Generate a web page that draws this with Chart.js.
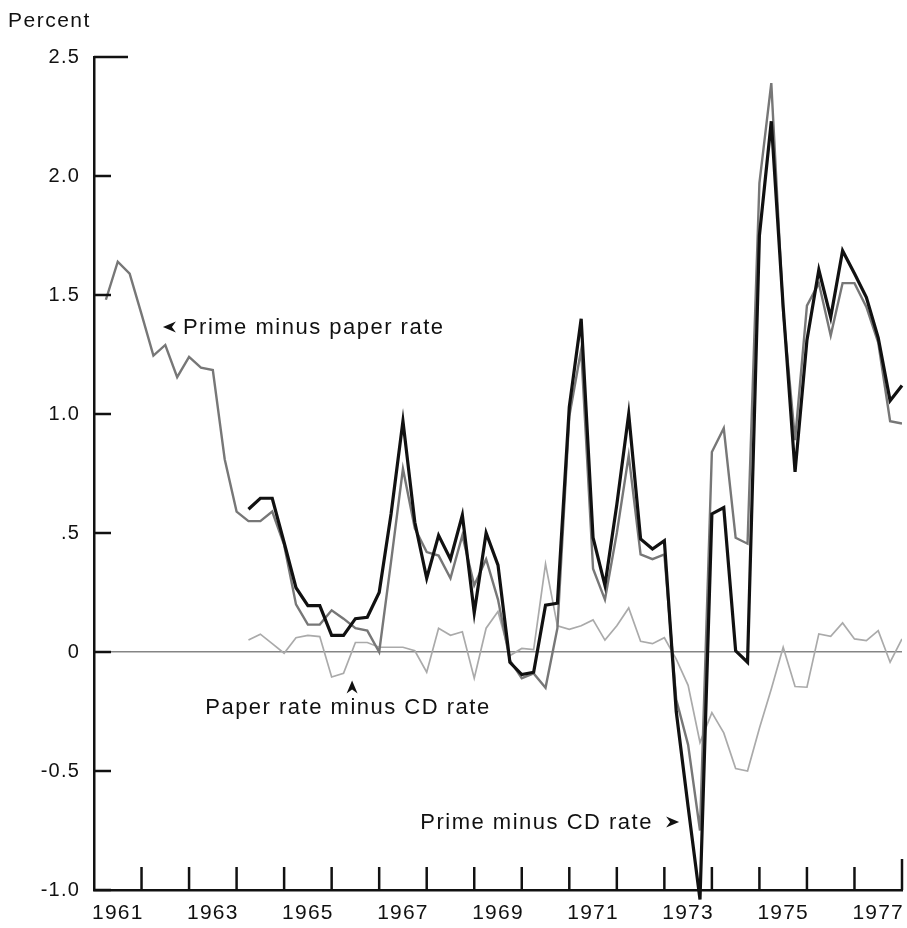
<!DOCTYPE html>
<html>
<head>
<meta charset="utf-8">
<title>Prime, paper and CD rate spreads</title>
<script src="https://cdn.jsdelivr.net/npm/chart.js@4.4.1/dist/chart.umd.min.js"></script>
<style>
  html, body { margin: 0; padding: 0; background: #fff; }
  #wrap { width: 907px; height: 928px; }
</style>
</head>
<body>
<div id="wrap"><canvas id="chart" width="907" height="928"></canvas></div>
<script>
var FIRST_YEAR = 1961;
var LAST_YEAR = 1978;
var Y_TICKS = [-1, -0.5, 0, 0.5, 1, 1.5, 2, 2.5];
var Y_TICK_LABELS = ["-1.0", "-0.5", "0", ".5", "1.0", "1.5", "2.0", "2.5"];
var YEAR_LABELS = ["1961", "1963", "1965", "1967", "1969", "1971", "1973", "1975", "1977"];

// quarterly values, 1961 Q1 .. 1977 Q4 (percentage points)
var primeMinusPaper = [
    1.48, 1.64, 1.59, 1.42,
    1.245, 1.29, 1.155, 1.24,
    1.195, 1.185, 0.81, 0.59,
    0.55, 0.55, 0.59, 0.45,
    0.20, 0.115, 0.115, 0.175,
    0.14, 0.10, 0.09, 0.0,
    0.38, 0.77, 0.52, 0.42,
    0.405, 0.31, 0.49, 0.28,
    0.39, 0.22, -0.035, -0.11,
    -0.09, -0.15, 0.10, 0.99,
    1.27, 0.35, 0.22, 0.50,
    0.825, 0.41, 0.39, 0.41,
    -0.20, -0.39, -0.75, 0.84,
    0.94, 0.48, 0.455, 1.97,
    2.39, 1.43, 0.89, 1.455,
    1.55, 1.33, 1.55, 1.55,
    1.45, 1.30, 0.97, 0.96
];

var primeMinusCD = [
    null, null, null, null,
    null, null, null, null,
    null, null, null, null,
    0.60, 0.646, 0.646, 0.46,
    0.27, 0.195, 0.195, 0.07,
    0.07, 0.14, 0.146, 0.25,
    0.58, 0.97, 0.545, 0.31,
    0.49, 0.39, 0.575, 0.165,
    0.50, 0.365, -0.043, -0.095,
    -0.085, 0.197, 0.205, 1.03,
    1.40, 0.48, 0.28, 0.62,
    1.0, 0.475, 0.433, 0.468,
    -0.25, -0.65, -1.04, 0.58,
    0.607, 0.005, -0.043, 1.75,
    2.23, 1.45, 0.757, 1.31,
    1.606, 1.406, 1.686, 1.59,
    1.49, 1.32, 1.056, 1.12
];

var paperMinusCD = [
    null, null, null, null,
    null, null, null, null,
    null, null, null, null,
    0.05, 0.075, 0.035, -0.005,
    0.06, 0.07, 0.065, -0.105,
    -0.09, 0.04, 0.04, 0.02,
    0.02, 0.02, 0.005, -0.085,
    0.10, 0.07, 0.085, -0.11,
    0.10, 0.17, -0.015, 0.015,
    0.01, 0.37, 0.11, 0.095,
    0.11, 0.135, 0.05, 0.11,
    0.185, 0.045, 0.035, 0.06,
    -0.03, -0.14, -0.38, -0.255,
    -0.34, -0.49, -0.50, -0.32,
    -0.155, 0.02, -0.145, -0.148,
    0.076, 0.066, 0.122, 0.055,
    0.048, 0.09, -0.043, 0.055
];

// each value is plotted at the end of its quarter
function toPoints(values) {
    return values.map(function(v, i) {
        return { x: FIRST_YEAR + (i + 1) / 4, y: v };
    });
}

var FONT = "'Liberation Sans', Arial, Helvetica, sans-serif";

// labels drawn next to the lines, anchored in data units
var notes = [
    { text: "Prime minus paper rate", x: 1962.87, y: 1.366, align: "left", arrow: "left", ax: 1962.45, ay: 1.366 },
    { text: "Paper rate minus CD rate", x: 1963.34, y: -0.231, align: "left", arrow: "up", ax: 1966.43, ay: -0.12 },
    { text: "Prime minus CD rate", x: 1972.76, y: -0.714, align: "right", arrow: "right", ax: 1973.31, ay: -0.714 }
];

function arrowHead(ctx, x, y, dir) {
    // small notched arrowhead, tip at (x, y)
    var L = 13, W = 5.5, N = 4;
    var pts;
    if (dir === "left") pts = [[x, y], [x + L, y - W], [x + L - N, y], [x + L, y + W]];
    else if (dir === "right") pts = [[x, y], [x - L, y - W], [x - L + N, y], [x - L, y + W]];
    else pts = [[x, y], [x - W, y + L], [x, y + L - N], [x + W, y + L]];
    ctx.beginPath();
    ctx.moveTo(pts[0][0], pts[0][1]);
    for (var i = 1; i < pts.length; i++) ctx.lineTo(pts[i][0], pts[i][1]);
    ctx.closePath();
    ctx.fill();
}

var framePlugin = {
    id: "frame",
    beforeDraw: function(chart) {
        chart.ctx.letterSpacing = "1.2px";
    },
    afterDraw: function(chart) {
        var ctx = chart.ctx;
        var xs = chart.scales.x, ys = chart.scales.y;
        var area = chart.chartArea;
        ctx.save();
        ctx.strokeStyle = "#111";
        ctx.lineWidth = 2.5;
        ctx.lineCap = "butt";

        // inward ticks on the value axis
        Y_TICKS.forEach(function(v) {
            var py = ys.getPixelForValue(v);
            var len = v === 2.5 ? 34 : 17;
            ctx.beginPath();
            ctx.moveTo(area.left, py);
            ctx.lineTo(area.left + len, py);
            ctx.stroke();
        });

        // inward ticks at each year boundary
        for (var yr = FIRST_YEAR + 1; yr <= LAST_YEAR; yr++) {
            var px = xs.getPixelForValue(yr);
            var h = yr === LAST_YEAR ? 31 : 23;
            ctx.beginPath();
            ctx.moveTo(px, area.bottom);
            ctx.lineTo(px, area.bottom - h);
            ctx.stroke();
        }

        ctx.fillStyle = "#111";
        ctx.letterSpacing = "1.5px";
        ctx.font = "21px " + FONT;
        ctx.textAlign = "left";
        ctx.textBaseline = "alphabetic";
        ctx.fillText("Percent", 8, 27);

        ctx.font = "22px " + FONT;
        ctx.textBaseline = "middle";
        notes.forEach(function(n) {
            ctx.textAlign = n.align;
            ctx.fillText(n.text, xs.getPixelForValue(n.x), ys.getPixelForValue(n.y) + 1);
            arrowHead(ctx, xs.getPixelForValue(n.ax), ys.getPixelForValue(n.ay), n.arrow);
        });
        ctx.restore();
    }
};

function buildChart() {
    var ctx = document.getElementById("chart").getContext("2d");
    new Chart(ctx, {
        type: "line",
        data: {
            datasets: [
                {
                    label: "Paper rate minus CD rate",
                    data: toPoints(paperMinusCD),
                    borderColor: "#aaaaaa",
                    borderWidth: 1.7,
                    pointRadius: 0,
                    tension: 0,
                    order: 3
                },
                {
                    label: "Prime minus paper rate",
                    data: toPoints(primeMinusPaper),
                    borderColor: "#777777",
                    borderWidth: 2.4,
                    pointRadius: 0,
                    tension: 0,
                    order: 2
                },
                {
                    label: "Prime minus CD rate",
                    data: toPoints(primeMinusCD),
                    borderColor: "#111111",
                    borderWidth: 3.2,
                    pointRadius: 0,
                    tension: 0,
                    clip: false,
                    order: 1
                }
            ]
        },
        options: {
            responsive: false,
            animation: false,
            devicePixelRatio: 1,
            layout: { padding: { left: 0, right: 5, top: 57, bottom: 0 } },
            plugins: {
                legend: { display: false },
                tooltip: { enabled: false }
            },
            scales: {
                x: {
                    type: "linear",
                    min: FIRST_YEAR,
                    max: LAST_YEAR,
                    afterBuildTicks: function(scale) {
                        var ticks = [];
                        for (var yr = FIRST_YEAR; yr <= LAST_YEAR; yr++) ticks.push({ value: yr });
                        YEAR_LABELS.forEach(function(l) { ticks.push({ value: +l + 0.5 }); });
                        ticks.sort(function(a, b) { return a.value - b.value; });
                        scale.ticks = ticks;
                    },
                    afterFit: function(scale) {
                        scale.height = 38;
                        scale.paddingLeft = 0;
                        scale.paddingRight = 0;
                    },
                    grid: { display: false, drawTicks: false },
                    border: { display: true, color: "#111", width: 2.5 },
                    ticks: {
                        autoSkip: false,
                        maxRotation: 0,
                        padding: 11,
                        color: "#111",
                        font: { family: FONT, size: 21 },
                        callback: function(v) {
                            var lbl = String(Math.floor(v));
                            return (v % 1 !== 0 && YEAR_LABELS.indexOf(lbl) >= 0) ? lbl : "";
                        }
                    }
                },
                y: {
                    min: -1,
                    max: 2.5,
                    afterBuildTicks: function(scale) {
                        scale.ticks = Y_TICKS.map(function(v) { return { value: v }; });
                    },
                    afterFit: function(scale) {
                        scale.width = 94;
                        scale.paddingTop = 0;
                        scale.paddingBottom = 0;
                    },
                    grid: {
                        drawTicks: false,
                        lineWidth: 1.6,
                        color: function(c) { return c.tick && c.tick.value === 0 ? "#858585" : "rgba(0,0,0,0)"; }
                    },
                    border: { display: true, color: "#111", width: 2.5 },
                    ticks: {
                        padding: 14,
                        color: "#111",
                        font: { family: FONT, size: 20 },
                        callback: function(v) { return Y_TICK_LABELS[Y_TICKS.indexOf(v)]; }
                    }
                }
            }
        },
        plugins: [framePlugin]
    });
}

document.addEventListener("DOMContentLoaded", buildChart);
</script>
</body>
</html>
